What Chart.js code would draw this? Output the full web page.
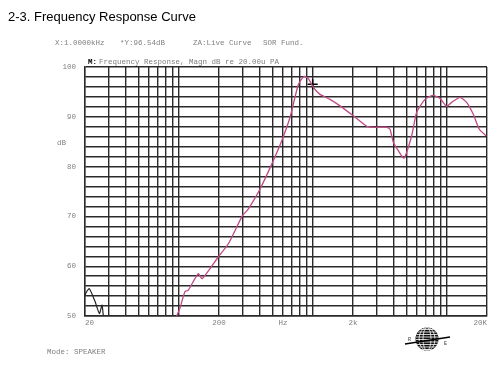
<!DOCTYPE html>
<html>
<head>
<meta charset="utf-8">
<script src="https://cdn.jsdelivr.net/npm/chart.js@4.4.1/dist/chart.umd.min.js"></script>
<style>
  html, body { margin: 0; padding: 0; background: #fff; }
  #wrap { width: 500px; height: 367px; }
</style>
</head>
<body>
<div id="wrap"><canvas id="chart" width="500" height="367"></canvas></div>
<script>
// main response curve (Hz, dB)
const respFreq = [96.6, 102, 111.5, 118, 140, 150, 198, 235, 300, 325, 350, 405, 495, 588, 678, 782, 861, 927, 1011, 1135, 1346, 1600, 2010, 2529, 2832, 3563, 3775, 4000, 4357, 4806, 5484, 5976, 6888, 7869, 8920, 10000, 10900, 12590, 14100, 15800, 17540, 19680];
const respDb   = [50.0, 51.5, 54.9, 55.2, 58.5, 57.5, 61.9, 64.5, 70.2, 71.2, 72.5, 75.5, 80.5, 85.2, 89.9, 96.5, 98.1, 97.7, 95.9, 94.5, 93.5, 92.2, 90.2, 88.1, 87.9, 87.9, 87.5, 84.9, 83.2, 81.7, 86.2, 90.9, 93.5, 94.3, 93.7, 92.1, 92.9, 93.9, 92.9, 90.5, 87.5, 86.2];

// short black trace at the low end
const lowFreq = [20, 20.2, 21.5, 23.7, 25.6, 26.8, 27.4];
const lowDb   = [54.0, 54.5, 55.5, 53.0, 50.5, 52.2, 50.0];

// cursor readout
const cursorFreq = [1000];
const cursorDb = [96.54];

const xGridValues = [];
[10, 100, 1000, 10000].forEach(d => {
  for (let m = 1; m <= 9; m++) {
    const v = m * d;
    if (v >= 20 && v <= 20000) xGridValues.push(v);
  }
});
const xLabels = { 20: '20', 200: '200', 600: 'Hz', 2000: '2k', 20000: '20K' };

const yGridValues = [];
for (let v = 50; v <= 100; v += 2) yGridValues.push(v);

const toPoints = (xs, ys) => xs.map((x, i) => ({ x: x, y: ys[i] }));

const mono = '"Liberation Mono", "DejaVu Sans Mono", monospace';

const textPlugin = {
  id: 'textPlugin',
  afterDraw(chart) {
    const ctx = chart.ctx;
    ctx.save();
    ctx.textBaseline = 'middle';
    ctx.fillStyle = '#000';
    ctx.font = '13px "Liberation Sans", Arial, sans-serif';
    ctx.fillText('2-3. Frequency Response Curve', 8, 17);

    ctx.font = '7.5px ' + mono;
    ctx.fillStyle = '#808080';
    ctx.fillText('X:1.0000kHz', 55, 43);
    ctx.fillText('*Y:96.54dB', 120, 43);
    ctx.fillText('ZA:Live Curve', 193, 43);
    ctx.fillText('SOR Fund.', 263, 43);

    ctx.fillText('Frequency Response, Magn dB re 20.00u PA', 99, 62);
    ctx.fillStyle = '#000';
    ctx.font = 'bold 7.5px ' + mono;
    ctx.fillText('M:', 88, 62);

    ctx.font = '7.5px ' + mono;
    ctx.fillStyle = '#808080';
    ctx.fillText('dB', 57, 143);
    ctx.fillText('Mode: SPEAKER', 47, 352);

    // logo
    const cx = 427, cy = 339, r = 11.5;
    ctx.beginPath();
    ctx.arc(cx, cy, r, 0, Math.PI * 2);
    ctx.fillStyle = '#111';
    ctx.fill();
    ctx.save();
    ctx.clip();
    ctx.strokeStyle = '#fff';
    ctx.lineWidth = 0.8;
    for (let y = cy - r + 2; y < cy + r; y += 2.5) {
      ctx.beginPath(); ctx.moveTo(cx - r, y); ctx.lineTo(cx + r, y); ctx.stroke();
    }
    [4, 8].forEach(w => {
      ctx.beginPath(); ctx.ellipse(cx, cy, w, r, 0, 0, Math.PI * 2); ctx.stroke();
    });
    ctx.restore();
    ctx.strokeStyle = '#000';
    ctx.lineWidth = 1.5;
    ctx.beginPath(); ctx.moveTo(405, 344); ctx.lineTo(450, 337); ctx.stroke();
    ctx.font = '5px ' + mono;
    ctx.fillStyle = '#333';
    ctx.fillText('R', 408, 340);
    ctx.fillText('E', 444, 344);
    ctx.restore();
  }
};

new Chart(document.getElementById('chart'), {
  type: 'line',
  data: {
    datasets: [
      {
        data: toPoints(respFreq, respDb),
        borderColor: '#c04a86',
        borderWidth: 1.3,
        pointRadius: 0,
        tension: 0.2
      },
      {
        data: toPoints(lowFreq, lowDb),
        borderColor: '#222',
        borderWidth: 1.2,
        pointRadius: 0,
        tension: 0.2
      },
      {
        data: toPoints(cursorFreq, cursorDb),
        showLine: false,
        pointStyle: 'cross',
        pointRadius: 5,
        borderColor: '#000',
        borderWidth: 1.5
      }
    ]
  },
  plugins: [textPlugin],
  options: {
    responsive: false,
    animation: false,
    layout: { padding: { left: 0, top: 67, right: 13, bottom: 0 } },
    plugins: { legend: { display: false }, tooltip: { enabled: false } },
    scales: {
      x: {
        type: 'logarithmic',
        min: 20,
        max: 20000,
        afterBuildTicks: s => { s.ticks = xGridValues.map(v => ({ value: v })); },
        afterFit: s => { s.height = 51; },
        grid: { color: '#2a2a2a', lineWidth: 1.4, drawTicks: false },
        border: { color: '#2a2a2a', width: 1.4 },
        ticks: {
          autoSkip: false,
          maxRotation: 0,
          align: 'inner',
          padding: 3,
          color: '#808080',
          font: { family: mono, size: 7.5 },
          callback: v => xLabels[v] || ''
        }
      },
      y: {
        min: 50,
        max: 100,
        afterBuildTicks: s => { s.ticks = yGridValues.map(v => ({ value: v })); },
        afterFit: s => { s.width = 85; },
        grid: { color: '#2a2a2a', lineWidth: 1.4, drawTicks: false },
        border: { color: '#2a2a2a', width: 1.4 },
        ticks: {
          autoSkip: false,
          padding: 9,
          color: '#808080',
          font: { family: mono, size: 7.5 },
          callback: v => (v % 10 === 0 ? v : '')
        }
      }
    }
  }
});
</script>
</body>
</html>
